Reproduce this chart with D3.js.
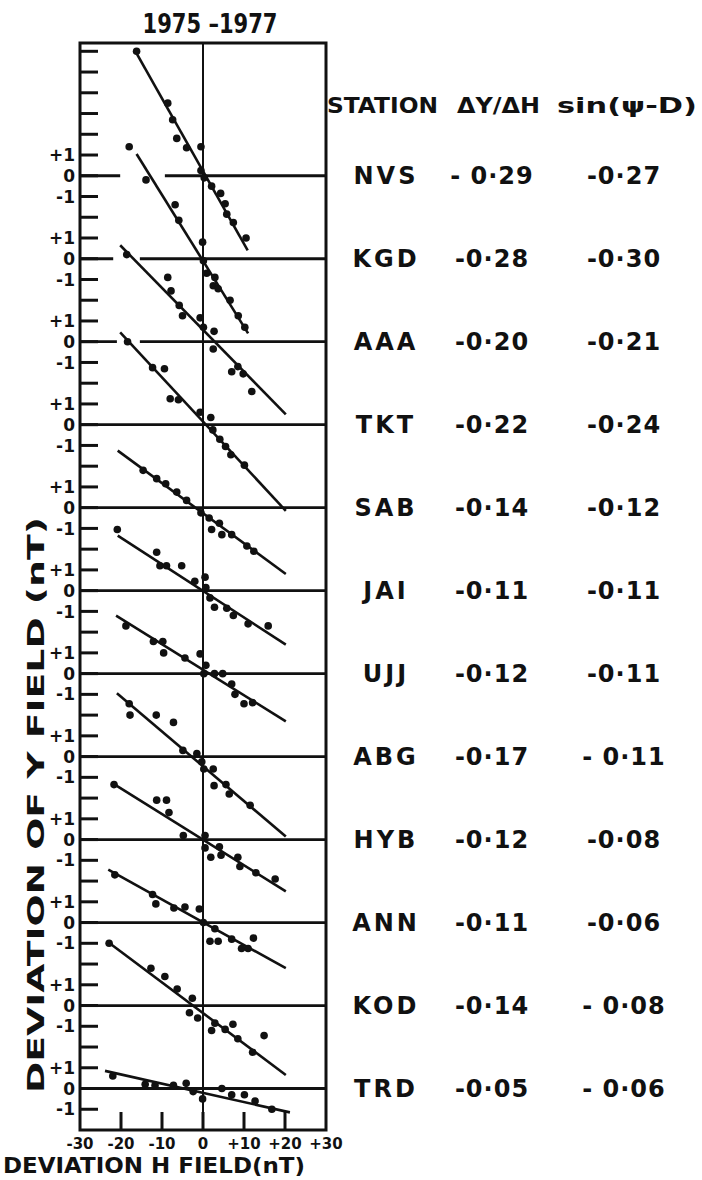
<!DOCTYPE html>
<html>
<head>
<meta charset="utf-8">
<script src="https://cdn.jsdelivr.net/npm/d3@7"></script>
<style>
  body { margin: 0; background: #fff; }
  text { font-family: "DejaVu Sans", sans-serif; font-weight: bold; fill: #111; }
</style>
</head>
<body>
<div id="chart"></div>
<script>
// station names and the two table columns
let stations = ["NVS", "KGD", "AAA", "TKT", "SAB", "JAI", "UJJ", "ABG", "HYB", "ANN", "KOD", "TRD"];
let dydh = ["- 0·29", "-0·28", "-0·20", "-0·22", "-0·14", "-0·11", "-0·12", "-0·17", "-0·12", "-0·11", "-0·14", "-0·05"];
let sinPsiD = ["-0·27", "-0·30", "-0·21", "-0·24", "-0·12", "-0·11", "-0·11", "- 0·11", "-0·08", "-0·06", "- 0·08", "- 0·06"];

// x axis ticks (deviation of H, nT)
let xTicks = [-30, -20, -10, 0, 10, 20, 30];
let xTickLabels = ["-30", "-20", "-10", "0", "+10", "+20", "+30"];
let yTickLabels = ["+1", "0", "-1"];

// data points per station [dH, dY] in nT
let nvsPoints = [[-16.2, 6.0], [-8.6, 3.5], [-7.4, 2.7], [-6.4, 1.8], [-4.0, 1.35], [-0.5, 1.4], [-0.5, 0.25], [0.3, -0.1], [2.1, -0.5], [4.3, -0.85], [5.4, -1.35], [5.8, -1.85], [7.4, -2.25], [10.5, -3.0]];
let kgdPoints = [[-18.0, 5.4], [-13.9, 3.8], [-6.8, 2.6], [-5.9, 1.85], [-0.1, 0.8], [0.1, -0.1], [0.9, -0.7], [2.9, -0.9], [2.5, -1.3], [3.7, -1.45], [6.6, -2.0], [8.6, -2.75], [10.2, -3.3]];
let aaaPoints = [[-18.6, 4.2], [-8.6, 3.1], [-7.8, 2.45], [-5.8, 1.75], [-5.0, 1.25], [-0.7, 1.15], [0.1, 0.7], [2.7, 0.5], [2.5, -0.35], [7.0, -1.45], [8.5, -1.2], [9.8, -1.55], [11.9, -2.4]];
let tktPoints = [[-18.4, 4.0], [-12.3, 2.75], [-9.4, 2.7], [-8.0, 1.25], [-6.0, 1.2], [-0.7, 0.6], [1.9, 0.35], [2.4, -0.25], [4.1, -0.7], [5.5, -1.05], [6.8, -1.45], [10.1, -1.95]];
let sabPoints = [[-14.6, 1.8], [-11.3, 1.4], [-9.1, 1.15], [-6.4, 0.75], [-4.0, 0.35], [-0.5, -0.25], [1.5, -0.5], [2.1, -1.05], [4.0, -0.75], [4.6, -1.3], [7.0, -1.3], [10.7, -1.85], [12.4, -2.1]];
let jaiPoints = [[-20.9, 2.95], [-11.3, 1.85], [-10.5, 1.2], [-8.9, 1.2], [-5.2, 1.2], [-2.0, 0.45], [0.5, 0.65], [0.7, 0.15], [1.7, -0.35], [2.8, -0.8], [5.8, -0.85], [7.4, -1.2], [11.0, -1.6], [15.9, -1.7]];
let ujjPoints = [[-18.8, 2.3], [-12.1, 1.55], [-9.8, 1.55], [-9.6, 1.0], [-4.4, 0.75], [-0.7, 0.95], [0.7, 0.4], [0.2, 0.0], [2.8, 0.0], [4.8, 0.0], [7.0, -0.5], [7.8, -1.0], [10.0, -1.45], [12.1, -1.4]];
let abgPoints = [[-18.0, 2.55], [-17.8, 2.0], [-11.4, 2.0], [-7.2, 1.65], [-4.9, 0.3], [-1.5, 0.15], [-0.3, -0.25], [0.2, -0.6], [2.5, -0.6], [2.7, -1.4], [5.6, -1.35], [6.4, -1.8], [11.5, -2.35]];
let hybPoints = [[-21.7, 2.65], [-11.3, 1.9], [-8.9, 1.9], [-8.3, 1.3], [-4.8, 0.2], [0.5, 0.2], [0.5, -0.4], [1.9, -0.85], [4.0, -0.35], [4.4, -0.75], [8.5, -0.85], [9.0, -1.3], [12.9, -1.6], [17.6, -1.9]];
let annPoints = [[-21.5, 2.3], [-12.3, 1.35], [-11.5, 0.9], [-7.1, 0.7], [-4.4, 0.75], [-0.9, 0.65], [0.1, 0.0], [2.9, -0.3], [1.7, -0.9], [3.7, -0.9], [7.0, -0.8], [9.4, -1.25], [11.0, -1.25], [12.3, -0.75]];
let kodPoints = [[-22.9, 3.0], [-12.7, 1.8], [-9.3, 1.4], [-6.3, 0.8], [-2.6, 0.35], [-3.3, -0.35], [-1.3, -0.6], [2.1, -1.2], [2.9, -0.85], [5.4, -1.15], [7.3, -0.9], [8.5, -1.6], [12.1, -2.25], [14.9, -1.45]];
let trdPoints = [[-22.0, 0.6], [-14.1, 0.2], [-11.7, 0.15], [-7.2, 0.15], [-4.1, 0.25], [-2.4, -0.15], [-0.1, -0.5], [4.6, 0.0], [7.0, -0.3], [10.1, -0.3], [12.7, -0.6], [16.8, -1.0]];

// fitted lines per station [dH start, dY start, dH end, dY end]
let fitLines = [
    [-16.2, 5.9, 10.9, -3.6],
    [-16.2, 5.05, 11.0, -3.6],
    [-20.2, 4.65, 20.2, -3.5],
    [-20.2, 4.45, 20.2, -4.15],
    [-20.8, 2.75, 20.2, -3.2],
    [-20.8, 2.65, 20.2, -2.6],
    [-21.2, 2.8, 20.2, -2.3],
    [-21.0, 3.05, 20.2, -3.85],
    [-21.9, 2.7, 20.2, -2.5],
    [-23.1, 2.55, 20.2, -2.2],
    [-23.1, 3.05, 20.2, -3.35],
    [-23.9, 0.85, 21.2, -1.15]
];

// breaks in the zero lines where the next panel's line crosses (dH range)
let zeroGaps = [[-20.2, -9.3], [-21.9, -15.4], [-21.0, -15.4], null, null, null, null, null, null, null, null, null];

let allPoints = [nvsPoints, kgdPoints, aaaPoints, tktPoints, sabPoints, jaiPoints, ujjPoints, abgPoints, hybPoints, annPoints, kodPoints, trdPoints];

let svgWidth = 702;
let svgHeight = 1180;
let panelStep = 4; // nT between stacked zero lines

let svg = d3.select("#chart")
    .append("svg")
    .attr("width", svgWidth)
    .attr("height", svgHeight);

// x scale: dH in nT
let x = d3.scaleLinear().domain([-30, 30]).range([80, 326]);
// y scale: stacked dY, each station shifted down by panelStep
let y = d3.scaleLinear().domain([6.4, -(stations.length - 1) * panelStep - 2]).range([43, 1130]);
let offset = i => -i * panelStep;

let plotTop = y.range()[0], plotBottom = y.range()[1];
let plotLeft = x.range()[0], plotRight = x.range()[1];

// left ticks every 1 nT
let yTicks = d3.range(Math.ceil(y.domain()[1]) + 1, Math.floor(y.domain()[0]) + 1);
svg.append("g").selectAll("line")
    .data(yTicks)
    .enter()
    .append("line")
    .attr("x1", plotLeft).attr("x2", plotLeft + 18)
    .attr("y1", d => y(d)).attr("y2", d => y(d))
    .attr("stroke", "#111").attr("stroke-width", 3);

// bottom ticks
svg.append("g").selectAll("line")
    .data(xTicks.slice(1, -1))
    .enter()
    .append("line")
    .attr("x1", d => x(d)).attr("x2", d => x(d))
    .attr("y1", plotBottom).attr("y2", plotBottom - 18)
    .attr("stroke", "#111").attr("stroke-width", 3);

// vertical line at dH = 0
svg.append("line")
    .attr("x1", x(0)).attr("x2", x(0))
    .attr("y1", plotTop).attr("y2", plotBottom)
    .attr("stroke", "#111").attr("stroke-width", 2);

// zero lines for each station (with gaps)
stations.forEach(function (s, i) {
    let gap = zeroGaps[i];
    let segs = gap ? [[-30, gap[0]], [gap[1], 30]] : [[-30, 30]];
    segs.forEach(function (seg) {
        svg.append("line")
            .attr("x1", x(seg[0])).attr("x2", x(seg[1]))
            .attr("y1", y(offset(i))).attr("y2", y(offset(i)))
            .attr("stroke", "#111").attr("stroke-width", 2.8);
    });
});

// frame
svg.append("rect")
    .attr("x", plotLeft).attr("y", plotTop)
    .attr("width", plotRight - plotLeft).attr("height", plotBottom - plotTop)
    .attr("fill", "none").attr("stroke", "#111").attr("stroke-width", 3);

// fitted lines
svg.append("g").selectAll("line")
    .data(fitLines)
    .enter()
    .append("line")
    .attr("x1", d => x(d[0]))
    .attr("y1", (d, i) => y(d[1] + offset(i)))
    .attr("x2", d => x(d[2]))
    .attr("y2", (d, i) => y(d[3] + offset(i)))
    .attr("stroke", "#111").attr("stroke-width", 2.6);

// points
allPoints.forEach(function (pts, i) {
    svg.append("g").selectAll("circle")
        .data(pts)
        .enter()
        .append("circle")
        .attr("cx", d => x(d[0]))
        .attr("cy", d => y(d[1] + offset(i)))
        .attr("r", 3.8)
        .attr("fill", "#111");
});

// left tick labels +1 / 0 / -1
stations.forEach(function (s, i) {
    svg.append("g").selectAll("text")
        .data(yTickLabels)
        .enter()
        .append("text")
        .attr("x", 75)
        .attr("y", (d, j) => y(offset(i) + 1 - j))
        .attr("dy", "0.36em")
        .attr("text-anchor", "end")
        .attr("font-size", 17)
        .text(d => d);
});

// bottom tick labels
svg.append("g").selectAll("text")
    .data(xTicks)
    .enter()
    .append("text")
    .attr("x", d => x(d))
    .attr("y", plotBottom + 19)
    .attr("text-anchor", "middle")
    .attr("font-size", 15)
    .text((d, i) => xTickLabels[i]);

// title
svg.append("text")
    .attr("x", 210).attr("y", 33)
    .attr("text-anchor", "middle")
    .attr("font-size", 27)
    .attr("textLength", 135).attr("lengthAdjust", "spacingAndGlyphs")
    .text("1975 –1977");

// axis titles
svg.append("text")
    .attr("x", 3).attr("y", 1173)
    .attr("font-size", 21)
    .attr("textLength", 302).attr("lengthAdjust", "spacingAndGlyphs")
    .text("DEVIATION   H FIELD(nT)");

svg.append("text")
    .attr("transform", "translate(44,1093) rotate(-90)")
    .attr("font-size", 23)
    .attr("textLength", 576).attr("lengthAdjust", "spacingAndGlyphs")
    .text("DEVIATION  OF  Y  FIELD (nT)");

// table header
let header = [["STATION", 327, 111], ["ΔY/ΔH", 457, 83], ["sin(ψ-D)", 557, 140]];
svg.append("g").selectAll("text")
    .data(header)
    .enter()
    .append("text")
    .attr("x", d => d[1]).attr("y", 105)
    .attr("dy", "0.36em")
    .attr("font-size", 22)
    .attr("textLength", d => d[2]).attr("lengthAdjust", "spacingAndGlyphs")
    .text(d => d[0]);

// table rows at each zero line
let rows = svg.append("g").selectAll("g")
    .data(stations)
    .enter()
    .append("g")
    .attr("transform", (d, i) => `translate(0, ${y(offset(i))})`);

rows.append("text")
    .attr("x", 386).attr("dy", "0.36em")
    .attr("text-anchor", "middle")
    .attr("font-size", 24).attr("letter-spacing", 3)
    .text(d => d);

rows.append("text")
    .attr("x", 492).attr("dy", "0.36em")
    .attr("text-anchor", "middle")
    .attr("font-size", 24).attr("letter-spacing", 1)
    .text((d, i) => dydh[i]);

rows.append("text")
    .attr("x", 624).attr("dy", "0.36em")
    .attr("text-anchor", "middle")
    .attr("font-size", 24).attr("letter-spacing", 1)
    .text((d, i) => sinPsiD[i]);
</script>
</body>
</html>
